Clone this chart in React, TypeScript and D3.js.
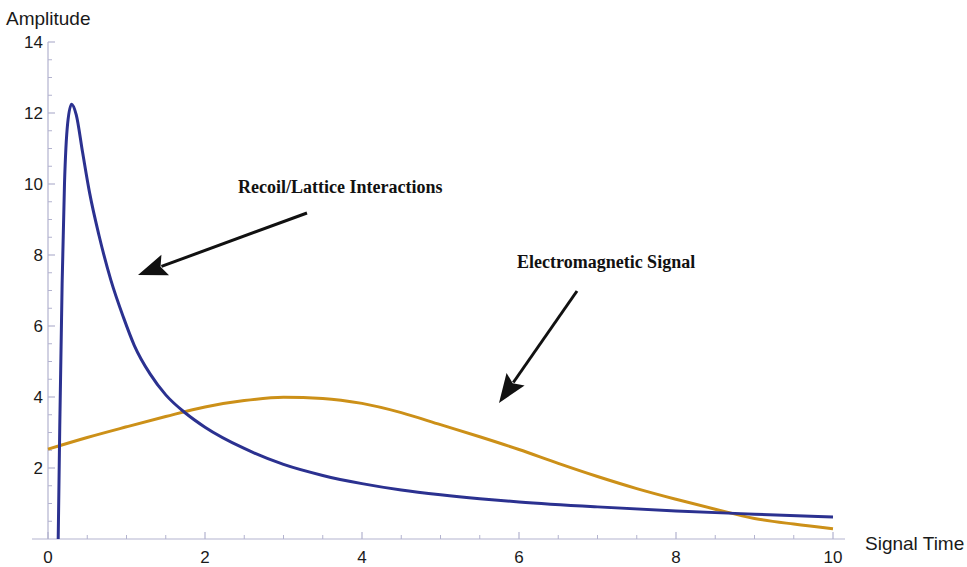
import React from "react";
import * as d3 from "d3";

const recoilX = [0.13, 0.15, 0.18, 0.21, 0.25, 0.3, 0.36, 0.44, 0.53, 0.65, 0.8, 0.96, 1.1, 1.3, 1.5, 1.75, 2.0, 2.5, 3.0, 3.5, 4.0, 4.5, 5.0, 5.5, 6.0, 7.0, 8.0, 9.0, 10.0];
const recoilY = [0, 3.2, 7.2, 10.0, 11.7, 12.25, 11.95, 10.9, 9.75, 8.55, 7.3, 6.25, 5.45, 4.65, 4.06, 3.55, 3.15, 2.55, 2.1, 1.79, 1.56, 1.38, 1.245, 1.135, 1.045, 0.905, 0.79, 0.7, 0.62];

const emX = [0, 0.5, 1, 1.5, 2, 2.5, 3, 3.5, 4, 4.5, 5, 5.5, 6, 6.5, 7, 7.5, 8, 8.5, 9, 9.5, 10];
const emY = [2.53, 2.86, 3.16, 3.45, 3.72, 3.9, 3.99, 3.96, 3.82, 3.56, 3.22, 2.88, 2.52, 2.13, 1.76, 1.42, 1.12, 0.84, 0.58, 0.42, 0.29];

const xTicks = [0, 2, 4, 6, 8, 10];
const yTicks = [2, 4, 6, 8, 10, 12, 14];

export default function App() {
  const W = 967, H = 567;
  const x = d3.scaleLinear().domain([0, 10]).range([48, 833]);
  const y = d3.scaleLinear().domain([0, 14]).range([539, 42]);
  const axisColor = "#b3b3cf";

  const line = d3
    .line<[number, number]>()
    .x((d) => x(d[0]))
    .y((d) => y(d[1]))
    .curve(d3.curveMonotoneX);

  const recoil = recoilX.map((v, i) => [v, recoilY[i]] as [number, number]);
  const em = emX.map((v, i) => [v, emY[i]] as [number, number]);

  const xMinor = d3.range(0, 10.01, 0.5).filter((v) => Math.abs(v % 2) > 1e-6);
  const yMinor = d3.range(0.5, 14.01, 0.5).filter((v) => Math.abs(v % 2) > 1e-6);

  const arrow = (x1: number, y1: number, x2: number, y2: number, key: string) => {
    const dx = x2 - x1, dy = y2 - y1;
    const len = Math.hypot(dx, dy);
    const ux = dx / len, uy = dy / len;
    const hl = 29, hw = 11;
    const bx = x2 - ux * hl, by = y2 - uy * hl;
    const px = -uy, py = ux;
    return (
      <g key={key}>
        <line x1={x1} y1={y1} x2={bx + ux * 4} y2={by + uy * 4} stroke="#111" strokeWidth={3} />
        <polygon
          points={`${x2},${y2} ${bx + px * hw},${by + py * hw} ${bx + ux * 5},${by + uy * 5} ${bx - px * hw},${by - py * hw}`}
          fill="#111"
        />
      </g>
    );
  };

  return (
    <svg width={W} height={H} style={{ position: "absolute", left: 0, top: 0, background: "#fff" }}>
      <line x1={32} x2={845} y1={y(0)} y2={y(0)} stroke={axisColor} strokeWidth={1.2} />
      <line x1={x(0)} x2={x(0)} y1={y(0)} y2={y(14)} stroke={axisColor} strokeWidth={1.2} />
      {xTicks.map((t) => (
        <g key={"xt" + t}>
          <line x1={x(t)} x2={x(t)} y1={y(0)} y2={y(0) - 7} stroke={axisColor} strokeWidth={1.2} />
          <text x={x(t)} y={563} textAnchor="middle" fontFamily="Liberation Sans, Arial, sans-serif" fontSize={17} fill="#1a1a1a">
            {t}
          </text>
        </g>
      ))}
      {xMinor.map((t) => (
        <line key={"xm" + t} x1={x(t)} x2={x(t)} y1={y(0)} y2={y(0) - 4} stroke={axisColor} strokeWidth={1} />
      ))}
      {yTicks.map((t) => (
        <g key={"yt" + t}>
          <line x1={x(0)} x2={x(0) + 7} y1={y(t)} y2={y(t)} stroke={axisColor} strokeWidth={1.2} />
          <text x={43} y={y(t) + 6} textAnchor="end" fontFamily="Liberation Sans, Arial, sans-serif" fontSize={17} fill="#1a1a1a">
            {t}
          </text>
        </g>
      ))}
      {yMinor.map((t) => (
        <line key={"ym" + t} x1={x(0)} x2={x(0) + 4} y1={y(t)} y2={y(t)} stroke={axisColor} strokeWidth={1} />
      ))}
      <text x={6} y={25} fontFamily="Liberation Sans, Arial, sans-serif" fontSize={19} fill="#1a1a1a">
        Amplitude
      </text>
      <text x={865} y={550} fontFamily="Liberation Sans, Arial, sans-serif" fontSize={19} fill="#1a1a1a">
        Signal Time
      </text>

      <path d={line(em) || ""} fill="none" stroke="#cc9018" strokeWidth={3} />
      <path d={line(recoil) || ""} fill="none" stroke="#2b3190" strokeWidth={3} />

      <text x={238} y={193} fontFamily="Liberation Serif, Times New Roman, serif" fontWeight="bold" fontSize={18} fill="#111">
        Recoil/Lattice Interactions
      </text>
      <text x={517} y={268} fontFamily="Liberation Serif, Times New Roman, serif" fontWeight="bold" fontSize={18} fill="#111">
        Electromagnetic Signal
      </text>
      {arrow(307, 213, 138, 275, "a1")}
      {arrow(577, 291, 499, 403, "a2")}
    </svg>
  );
}
